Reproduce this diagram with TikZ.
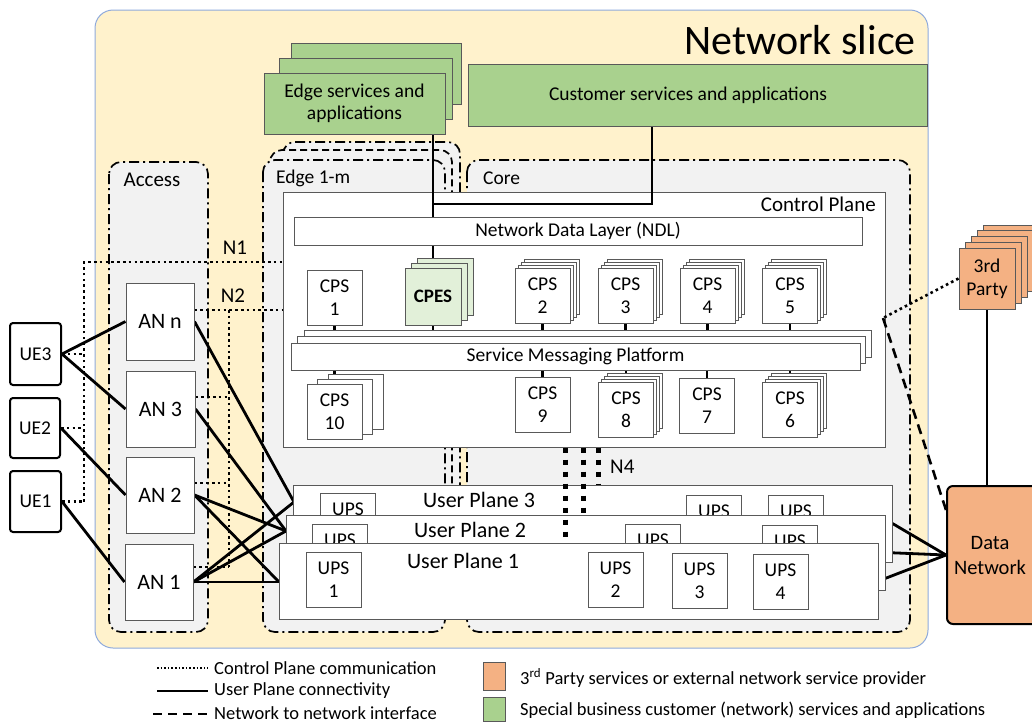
\documentclass[tikz,border=0pt]{standalone}
\usepackage{fontspec}
\setmainfont{Carlito}
\usetikzlibrary{calc}
\pgfdeclarelayer{bg}
\pgfdeclarelayer{conn}
\pgfsetlayers{bg,conn,main}
\definecolor{slicey}{HTML}{FFF2CC}
\definecolor{sliceb}{HTML}{8FAADC}
\definecolor{regg}{HTML}{F2F2F2}
\definecolor{grn}{HTML}{A9D18E}
\definecolor{lgrn}{HTML}{E2F0D9}
\definecolor{org}{HTML}{F4B183}
\definecolor{bord}{HTML}{595959}
\newcommand\stk[6][]{\foreach \dx/\dy in {#6}{\draw[bk,#1] ({#2-#4/2+\dx},{#3-#5/2+\dy}) rectangle ({#2+#4/2+\dx},{#3+#5/2+\dy});}}
\begin{document}
\begin{tikzpicture}[x=1pt,y=-1pt,
  lbl/.style={font=\fontsize{19.5}{23}\selectfont, align=center, inner sep=0pt},
  wbox/.style={draw=bord, fill=white, line width=1pt, inner sep=0pt, align=center, font=\fontsize{19.5}{23}\selectfont},
  bk/.style={draw=bord, fill=white, line width=1pt},
  sq/.style={wbox, minimum width=55, minimum height=55},
  region/.style={draw=black, fill=regg, line width=1.7pt, rounded corners=12pt, dash pattern=on 10pt off 4pt on 2pt off 4pt},
  upl/.style={line width=2.8pt},
  cpl/.style={line width=2.6pt, dash pattern=on 2.6pt off 3.2pt},
  nni/.style={line width=2.6pt, dash pattern=on 10pt off 6pt},
  n4l/.style={line width=5pt, dash pattern=on 5pt off 7pt},
  ue/.style={draw=black, fill=white, line width=2pt, rounded corners=3pt, inner sep=0pt, font=\fontsize{19.5}{22}\selectfont},
  an/.style={wbox, font=\fontsize{22}{25}\selectfont},
  upt/.style={lbl, font=\fontsize{22}{25}\selectfont},
  nl/.style={lbl, font=\fontsize{21}{24}\selectfont},
  leg/.style={anchor=west, inner sep=0pt, font=\fontsize{18.5}{21}\selectfont}
]
\useasboundingbox (0,0) rectangle (1032,724);

\begin{pgfonlayer}{bg}
\draw[fill=slicey, draw=sliceb, line width=1pt, rounded corners=18pt] (95,10) rectangle (928,648);
\draw[region] (109,162) rectangle (208,632);
\draw[region] (283,142) rectangle (460,600);
\draw[region, dash pattern=on 7pt off 4pt] (270,150) rectangle (452,600);
\draw[region] (263,160) rectangle (445,632);
\draw[region] (467,160) rectangle (910,632);
\node[wbox, minimum width=602, minimum height=255] (cp) at (584,319.5) {};
\end{pgfonlayer}

% titles
\node[anchor=east, inner sep=0pt, font=\fontsize{42}{46}\selectfont] (title) at (916,40) {Network slice};
\node[nl] (acc) at (152,180) {Access};
\node[lbl, anchor=west] (edgel) at (276,178) {Edge 1-m};
\node[lbl, anchor=west] (corel) at (483,178) {Core};
\node[nl, anchor=east] (cpl) at (876,204) {Control Plane};

% service boxes
\draw[bk, fill=grn] (291,43) rectangle (461,104);
\draw[bk, fill=grn] (279,58) rectangle (452,119);
\node[wbox, fill=grn, minimum width=181, minimum height=61, font=\fontsize{19.5}{22}\selectfont] (edge) at (354.5,103.5) {Edge services and\\applications};
\node[wbox, fill=grn, minimum width=459, minimum height=62] (cust) at (697.5,95) {};
\node[lbl] (custt) at (688,95) {Customer services and applications};

% control plane contents
\node[wbox, minimum width=568, minimum height=28] (ndl) at (578,231) {Network Data Layer (NDL)};
\draw[bk] (304,330) rectangle (871,357);
\draw[bk] (297,336) rectangle (865,363);
\node[wbox, minimum width=569, minimum height=27] (smp) at (575.5,356.5) {Service Messaging Platform};

\node[sq] (cps1) at (334.5,297.5) {CPS\\1};
\stk[fill=lgrn]{433}{296.5}{56}{57}{12/-10,6/-5}
\node[wbox, fill=lgrn, minimum width=56, minimum height=57, font=\bfseries\fontsize{19}{23}\selectfont] (cpes) at (433,296.5) {CPES};
\stk{542.5}{295.5}{55}{55}{9/-9,6/-6,3/-3}
\node[sq] (cps2) at (542.5,295.5) {CPS\\2};
\stk{625.5}{295.5}{55}{55}{9/-9,6/-6,3/-3}
\node[sq] (cps3) at (625.5,295.5) {CPS\\3};
\stk{707.5}{295.5}{55}{55}{9/-9,6/-6,3/-3}
\node[sq] (cps4) at (707.5,295.5) {CPS\\4};
\stk{790}{295.5}{55}{55}{9/-9,6/-6,3/-3}
\node[sq] (cps5) at (790,295.5) {CPS\\5};

\stk{334.5}{411.5}{55}{55}{21/-10,10/-5}
\node[sq] (cps10) at (334.5,411.5) {CPS\\10};
\node[sq] (cps9) at (542.5,404.5) {CPS\\9};
\stk{626}{409.5}{55}{55}{9/-9,6/-6,3/-3}
\node[sq] (cps8) at (626,409.5) {CPS\\8};
\node[sq] (cps7) at (707,405.5) {CPS\\7};
\stk{790}{410}{55}{55}{9/-9,6/-6,3/-3}
\node[sq] (cps6) at (790,410) {CPS\\6};

% user planes
\node[wbox, minimum width=599, minimum height=77] (up3) at (592.5,523.5) {};
\node[upt] (up3l) at (479,500) {User Plane 3};
\node[sq, anchor=north west] (u3a) at (320,493) {UPS\\\phantom{1}};
\node[sq, anchor=north west] (u3b) at (686,495) {UPS\\\phantom{1}};
\node[sq, anchor=north west] (u3c) at (768,495) {UPS\\\phantom{1}};
\node[wbox, minimum width=599, minimum height=75] (up2) at (585.5,552.5) {};
\node[upt] (up2l) at (470,530) {User Plane 2};
\node[sq, anchor=north west] (u2a) at (312,524) {UPS\\\phantom{1}};
\node[sq, anchor=north west] (u2b) at (625,524) {UPS\\\phantom{1}};
\node[sq, anchor=north west] (u2c) at (762,525) {UPS\\\phantom{1}};
\node[wbox, minimum width=599, minimum height=76] (up1) at (578.5,581) {};
\node[upt] (up1l) at (463,561) {User Plane 1};
\node[sq] (ups1) at (333.5,579.5) {UPS\\1};
\node[sq] (ups2) at (615.5,579.5) {UPS\\2};
\node[sq] (ups3) at (699.5,580.5) {UPS\\3};
\node[sq] (ups4) at (780.5,581.5) {UPS\\4};

% access nodes and UEs
\node[an, minimum width=68, minimum height=77] (ann) at (160,321.5) {AN n};
\node[an, minimum width=69, minimum height=76] (an3) at (160.5,409) {AN 3};
\node[an, minimum width=68, minimum height=76] (an2) at (160,495) {AN 2};
\node[an, minimum width=68, minimum height=76] (an1) at (159,582) {AN 1};
\node[ue, minimum width=51, minimum height=62] (ue3) at (35.5,354) {UE3};
\node[ue, minimum width=50, minimum height=60] (ue2) at (35,428) {UE2};
\node[ue, minimum width=51, minimum height=61] (ue1) at (35.5,501.5) {UE1};

% external
\node[draw=black, fill=org, line width=2pt, rounded corners=6pt, minimum width=98, minimum height=138] (dn) at (996,555) {};
\node[lbl, font=\fontsize{20.5}{25}\selectfont] (dnl) at (990,555) {Data\\Network};
\stk[fill=org]{987}{278.5}{56}{61}{24/-23,18/-18,12/-12,6/-6}
\node[wbox, fill=org, minimum width=56, minimum height=61] (tp) at (987,278.5) {3rd\\Party};

% coordinates
\coordinate (el) at (433,0);
\coordinate (cl) at (652,204);
\coordinate (vx) at (84,262);
\coordinate (n2) at (229,310);
\coordinate (a3) at (229,397);
\coordinate (a2) at (229,483);
\coordinate (a1) at (229,567);
\coordinate (t3) at (294,502);
\coordinate (t2) at (286,531);
\coordinate (t1) at (279,582);
\coordinate (nj) at (883,318);
\coordinate (dnj) at (947,513);
\coordinate (n4a) at (565,0);
\coordinate (n4b) at (583,0);
\coordinate (n4c) at (598,0);

\begin{pgfonlayer}{conn}
\draw[upl] (edge.south -| el) -- (ndl.north -| el);
\draw[upl] (cust.south -| cl) -- (cl) -- (cl -| el);
\draw[upl] (cpes |- ndl) -- (cpes);
\foreach \c in {cps1,cpes,cps2,cps3,cps4,cps5,cps10,cps9,cps8,cps7,cps6}
  \draw[upl] (\c) -- (\c |- smp);
% UE links
\draw[upl] (ue3.east) -- (ann.west);
\draw[upl] (ue3.east) -- (an3.west);
\draw[upl] (ue2.east) -- (an2.west);
\draw[upl] (ue1.east) -- (an1.west);
\draw[cpl] (ue3.east) -- (ue3.east -| vx);
\draw[cpl] (ue2.east) -- (ue2.east -| vx);
\draw[cpl] (ue1.east) -- (ue1.east -| vx);
\draw[cpl] (vx |- ue1.east) -- (vx) -- (vx -| cp.west);
% N2
\draw[cpl] (n2 -| ann.east) -- (n2 -| cp.west);
\draw[cpl] (n2) -- (a1);
\draw[cpl] (a3 -| an3.east) -- (a3);
\draw[cpl] (a2 -| an2.east) -- (a2);
\draw[cpl] (a1 -| an1.east) -- (a1);
% AN to UP
\draw[upl] (ann.east) -- (t3);
\draw[upl] (an3.east) -- (t2);
\draw[upl] (an2.east) -- (t2);
\draw[upl] (an2.east) -- (t1);
\draw[upl] (an1.east) -- (t3);
\draw[upl] (an1.east) -- (t2);
\draw[upl] (an1.east) -- (t1);
% UP to DN
\draw[upl] (up3.east) -- (dn.west);
\draw[upl] (up2.east) -- (dn.west);
\draw[upl] (up1.east) -- (dn.west);
% third party
\draw[upl] (tp.south) -- (tp.south |- dn.north);
\draw[cpl] (tp.west) -- (nj);
\draw[nni] (nj) -- (dnj);
\end{pgfonlayer}

% N4
\draw[n4l] (n4a |- cp.south) -- (n4a |- up1.north);
\draw[n4l] (n4b |- cp.south) -- (n4b |- up2.north);
\draw[n4l] (n4c |- cp.south) -- (n4c |- up3.north);
\node[nl, anchor=west] (n4t) at (610,467) {N4};
\node[nl] (n1t) at (235,248) {N1};
\node[nl] (n2t) at (233,296) {N2};

% legend
\coordinate (l1a) at (157,668); \coordinate (l1b) at (208,668);
\coordinate (l2a) at (157,691); \coordinate (l2b) at (208,691);
\coordinate (l3a) at (153,714); \coordinate (l3b) at (208,714);
\draw[line width=1.6pt, dash pattern=on 1.6pt off 2pt] (l1a) -- (l1b);
\draw[line width=2.2pt] (l2a) -- (l2b);
\draw[line width=2.6pt, dash pattern=on 9pt off 6pt] (l3a) -- (l3b);
\node[leg] (lt1) at (214,668) {Control Plane communication};
\node[leg] (lt2) at (214,691) {User Plane connectivity};
\node[leg] (lt3) at (214,713) {Network to network interface};
\node[draw=bord, fill=org, line width=1pt, minimum width=22, minimum height=28, inner sep=0pt] (lo) at (494,676) {};
\node[draw=bord, fill=grn, line width=1pt, minimum width=22, minimum height=24, inner sep=0pt] (lg) at (494,709) {};
\node[leg] (lt4) at (520,678) {3\textsuperscript{rd} Party services or external network service provider};
\node[leg] (lt5) at (520,710) {Special business customer (network) services and applications};
\end{tikzpicture}
\end{document}
